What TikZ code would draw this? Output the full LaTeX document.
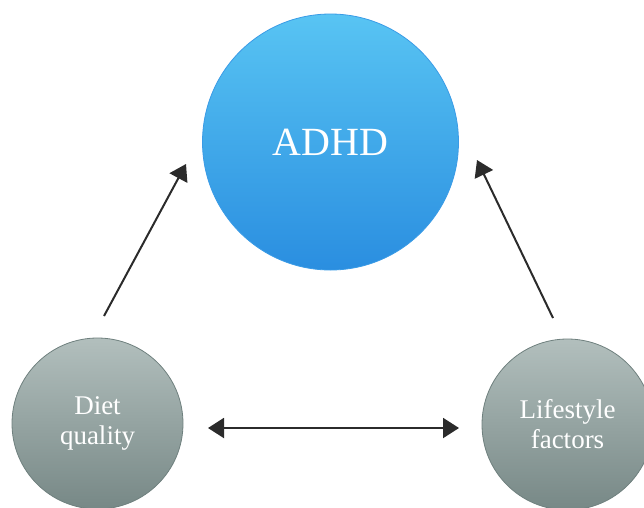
\documentclass[tikz,border=0pt]{standalone}
\usepackage{fontspec}
\setmainfont{Liberation Serif}
\usetikzlibrary{arrows.meta}
\definecolor{blueTop}{HTML}{58C4F3}
\definecolor{blueBot}{HTML}{2A8EE0}
\definecolor{blueEdge}{HTML}{3A9BE6}
\definecolor{greyTop}{HTML}{B2BFBD}
\definecolor{greyBot}{HTML}{778886}
\definecolor{greyEdge}{HTML}{6F807E}
\definecolor{arrowcol}{HTML}{2B2B2B}
\tikzset{
  bigcircle/.style={circle, minimum size=256pt, inner sep=0pt, top color=blueTop, bottom color=blueBot, draw=blueEdge, line width=0.8pt, text=white, font=\fontsize{40}{44}\selectfont},
  smallcircle/.style={circle, minimum size=171pt, inner sep=0pt, top color=greyTop, bottom color=greyBot, draw=greyEdge, line width=0.8pt, text=white, align=center, font=\fontsize{27}{30}\selectfont},
  conn/.style={draw=arrowcol, line width=2pt, -{Triangle[length=16pt,width=20pt]}},
  dconn/.style={draw=arrowcol, line width=2pt, {Triangle[length=16pt,width=20pt]}-{Triangle[length=16pt,width=20pt]}}
}
\begin{document}
\begin{tikzpicture}[x=1pt,y=-1pt]
\useasboundingbox (0,0) rectangle (644,507);
\node[bigcircle] (adhd) at (330.5,142) {ADHD};
\node[smallcircle] (diet) at (97.5,423.5) {Diet\\quality};
\node[smallcircle] (life) at (567.5,424.5) {Lifestyle\\factors};
\coordinate (a1) at (104,316);
\coordinate (a2) at (186,164);
\coordinate (b1) at (553,318);
\coordinate (b2) at (477,160);
\coordinate (c1) at (208,428);
\coordinate (c2) at (459,428);
\draw[conn] (a1) -- (a2);
\draw[conn] (b1) -- (b2);
\draw[dconn] (c1) -- (c2);
\end{tikzpicture}
\end{document}
